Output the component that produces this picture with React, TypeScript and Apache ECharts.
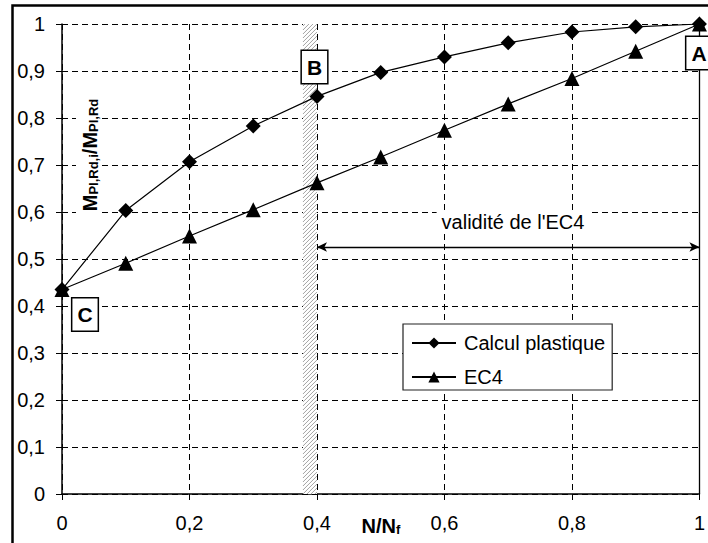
import React, { useEffect, useRef } from 'react';
import * as echarts from 'echarts';

const xValues = [0, 0.1, 0.2, 0.3, 0.4, 0.5, 0.6, 0.7, 0.8, 0.9, 1];
const plastiqueValues = [0.435, 0.603, 0.707, 0.783, 0.846, 0.897, 0.93, 0.96, 0.983, 0.994, 1.0];
const ec4Values = [0.435, 0.491, 0.549, 0.605, 0.662, 0.717, 0.774, 0.83, 0.884, 0.942, 1.0];
const seriesNames = ['Calcul plastique', 'EC4'];
const bandRange = [0.378, 0.4];
const validityRange = [0.4, 1];
const validityLevel = 0.5255;
const limitX = 1;
const validityText = "validité de l'EC4";

const FONT = '"Liberation Sans", Arial, Helvetica, sans-serif';

function fmt(v: number): string {
  return String(Number(v.toFixed(2))).replace('.', ',');
}

export default function App() {
  const ref = useRef<HTMLDivElement>(null);
  useEffect(() => {
    const chart = echarts.init(ref.current!, null, { renderer: 'svg' });

    const hatch = (params: any, api: any) => {
      const tl = api.coord([api.value(0), 1]);
      const br = api.coord([api.value(1), 0]);
      const X0 = tl[0], Y0 = tl[1], X1 = br[0], Y1 = br[1];
      const children: any[] = [
        { type: 'rect', shape: { x: X0, y: Y0, width: X1 - X0, height: Y1 - Y0 }, style: { fill: '#fff' } },
      ];
      const step = 4;
      for (let c = X0 + Y0 + step / 2; c < X1 + Y1; c += step) {
        const xa = Math.max(X0, c - Y1);
        const xb = Math.min(X1, c - Y0);
        if (xb > xa) {
          children.push({
            type: 'line',
            shape: { x1: xa, y1: c - xa, x2: xb, y2: c - xb },
            style: { stroke: '#9a9a9a', lineWidth: 0.9 },
          });
        }
      }
      return { type: 'group', children };
    };

    const boxStyle = (t: string, x: number, y: number) => ({
      type: 'text',
      x,
      y,
      z: 20,
      style: {
        text: t,
        font: `bold 21px ${FONT}`,
        fill: '#000',
        align: 'center',
        verticalAlign: 'middle',
        backgroundColor: '#fff',
        borderColor: '#000',
        borderWidth: 1.5,
        padding: [6, 5, 5, 5],
      },
    });

    const option: any = {
      animation: false,
      textStyle: { fontFamily: FONT },
      grid: { left: 62, right: 6, top: 24, bottom: 49 },
      xAxis: {
        type: 'value',
        min: 0,
        max: 1,
        interval: 0.2,
        axisLine: { show: true, lineStyle: { color: '#000', width: 1.5 } },
        axisTick: { show: true, length: 6, lineStyle: { color: '#000', width: 1 } },
        axisLabel: { color: '#000', fontSize: 20, margin: 19, fontFamily: FONT, formatter: (v: number) => fmt(v) },
        splitLine: { show: true, lineStyle: { color: '#000', width: 1, type: [6, 4] } },
      },
      yAxis: {
        type: 'value',
        min: 0,
        max: 1,
        interval: 0.1,
        axisLine: { show: true, lineStyle: { color: '#000', width: 1.5 } },
        axisTick: { show: true, length: 6, lineStyle: { color: '#000', width: 1 } },
        axisLabel: { color: '#000', fontSize: 20, margin: 17, fontFamily: FONT, formatter: (v: number) => fmt(v) },
        splitLine: { show: true, lineStyle: { color: '#000', width: 1, type: [6, 4] } },
      },
      legend: {
        data: seriesNames,
        orient: 'vertical',
        left: 403,
        top: 324,
        itemWidth: 44,
        itemHeight: 14,
        itemGap: 14,
        padding: [9, 7, 3, 8],
        backgroundColor: '#fff',
        borderColor: '#222',
        borderWidth: 1.2,
        borderRadius: 0,
        textStyle: { fontSize: 20, color: '#000', fontFamily: FONT, padding: [0, 0, 0, 3] },
      },
      series: [
        {
          type: 'custom',
          z: 1,
          silent: true,
          renderItem: hatch,
          encode: { x: [0, 1] },
          data: [bandRange],
        },
        {
          name: seriesNames[0],
          type: 'line',
          z: 3,
          data: xValues.map((x, i) => [x, plastiqueValues[i]]),
          symbol: 'diamond',
          symbolSize: 15,
          itemStyle: { color: '#000' },
          lineStyle: { color: '#000', width: 1.2 },
          markLine: {
            silent: true,
            symbol: ['none', 'none'],
            label: { show: false },
            lineStyle: { color: '#000', width: 1.3, type: 'solid' },
            data: [{ xAxis: limitX }],
          },
        },
        {
          name: seriesNames[1],
          type: 'line',
          z: 4,
          data: xValues.map((x, i) => [x, ec4Values[i]]),
          symbol: 'triangle',
          symbolSize: 15,
          itemStyle: { color: '#000' },
          lineStyle: { color: '#000', width: 1.2 },
          markLine: {
            silent: true,
            symbol: ['arrow', 'arrow'],
            symbolSize: [7, 10],
            label: { show: false },
            lineStyle: { color: '#000', width: 1.3, type: 'solid' },
            data: [[{ coord: [validityRange[0], validityLevel] }, { coord: [validityRange[1], validityLevel] }]],
          },
        },
      ],
      graphic: [
        {
          type: 'rect',
          z: 30,
          shape: { x: 12.5, y: 5.5, width: 720, height: 580 },
          style: { fill: 'none', stroke: '#000', lineWidth: 2.5 },
        },
        {
          type: 'text',
          x: 88,
          y: 155,
          rotation: Math.PI / 2,
          z: 20,
          style: {
            text: '{m|M}{s|Pl,Rd,i}{m|/M}{s|Pl,Rd}',
            align: 'center',
            verticalAlign: 'middle',
            backgroundColor: '#fff',
            padding: [0, 3],
            rich: {
              m: { font: `bold 20px ${FONT}`, fill: '#000', lineHeight: 24, verticalAlign: 'bottom' },
              s: { font: `bold 13px ${FONT}`, fill: '#000', lineHeight: 10, verticalAlign: 'bottom' },
            },
          },
        },
        {
          type: 'text',
          x: 381,
          y: 524,
          z: 20,
          style: {
            text: '{m|N/N}{s|f}',
            align: 'center',
            verticalAlign: 'middle',
            rich: {
              m: { font: `bold 20px ${FONT}`, fill: '#000', lineHeight: 24, verticalAlign: 'bottom' },
              s: { font: `bold 13px ${FONT}`, fill: '#000', lineHeight: 10, verticalAlign: 'bottom' },
            },
          },
        },
        {
          type: 'text',
          x: 513,
          y: 222,
          z: 20,
          style: {
            text: validityText,
            font: `20px ${FONT}`,
            fill: '#000',
            align: 'center',
            verticalAlign: 'middle',
            backgroundColor: '#fff',
            padding: [2, 5],
          },
        },
        boxStyle('A', 699, 53),
        boxStyle('B', 314.5, 67),
        boxStyle('C', 85, 314.5),
      ],
    };
    chart.setOption(option);
    return () => chart.dispose();
  }, []);
  return (
    <div
      ref={ref}
      style={{ position: 'fixed', left: 0, top: 0, width: 708, height: 543, background: '#fff' }}
    />
  );
}
